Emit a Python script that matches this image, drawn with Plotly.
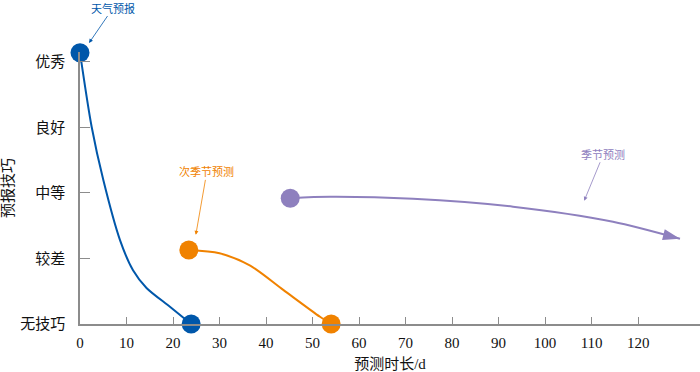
import plotly.graph_objects as go

# ---- data ----
skill_labels = ["无技巧", "较差", "中等", "良好", "优秀"]
skill_levels = [0, 1, 2, 3, 4]
x_ticks = [0, 10, 20, 30, 40, 50, 60, 70, 80, 90, 100, 110, 120]

weather_x = [0, 2.5, 5.0, 8.6, 11.4, 14.3, 19.4, 23.9]
weather_y = [4.14, 3.01, 2.2, 1.28, 0.82, 0.55, 0.26, 0.0]

subseasonal_x = [23.4, 30.0, 36.6, 43.7, 51.6, 54.0]
subseasonal_y = [1.13, 1.08, 0.89, 0.52, 0.11, 0.0]

seasonal_x = [45.2, 53.8, 71.6, 93.1, 114.6, 129.0]
seasonal_y = [1.92, 1.94, 1.91, 1.79, 1.56, 1.30]

BLUE = "#0057AA"
ORANGE = "#F08200"
PURPLE = "#8E80BE"
AXIS = "#8C8C8C"
FONT = "Liberation Serif, Noto Sans CJK SC, serif"

fig = go.Figure()

for xs, ys, col in [(weather_x, weather_y, BLUE),
                    (subseasonal_x, subseasonal_y, ORANGE),
                    (seasonal_x, seasonal_y, PURPLE)]:
    fig.add_trace(go.Scatter(
        x=xs, y=ys, mode="lines",
        line=dict(color=col, width=2, shape="spline", smoothing=0.8),
        cliponaxis=False, showlegend=False, hoverinfo="skip"))

# endpoint dots
for xs, ys, col in [(weather_x, weather_y, BLUE),
                    (subseasonal_x, subseasonal_y, ORANGE)]:
    fig.add_trace(go.Scatter(
        x=[xs[0], xs[-1]], y=[ys[0], ys[-1]], mode="markers",
        marker=dict(color=col, size=19, opacity=1, line=dict(width=0)),
        cliponaxis=False, showlegend=False, hoverinfo="skip"))

fig.add_trace(go.Scatter(
    x=[seasonal_x[0]], y=[seasonal_y[0]], mode="markers",
    marker=dict(color=PURPLE, size=19, opacity=1, line=dict(width=0)),
    cliponaxis=False, showlegend=False, hoverinfo="skip"))

# arrowhead at end of seasonal curve
fig.add_trace(go.Scatter(
    x=seasonal_x[-2:], y=seasonal_y[-2:], mode="markers",
    marker=dict(color=PURPLE, symbol=["circle", "arrow"], angleref="previous",
                size=[0, 18], opacity=1, line=dict(width=0)),
    cliponaxis=False, showlegend=False, hoverinfo="skip"))

ann_font = dict(family=FONT, size=11)
fig.add_annotation(x=1.94, y=1.033, xref="x", yref="paper", text="天气预报",
                   showarrow=True, ax=24, ay=-35, arrowhead=2, arrowsize=1,
                   arrowwidth=0.8, arrowcolor=BLUE, font=dict(ann_font, color=BLUE))
fig.add_annotation(x=24.9, y=1.36, xref="x", yref="y", text="次季节预测",
                   showarrow=True, ax=11, ay=-63, arrowhead=2, arrowsize=1,
                   arrowwidth=0.8, arrowcolor=ORANGE, font=dict(ann_font, color=ORANGE))
fig.add_annotation(x=108.4, y=1.88, xref="x", yref="y", text="季节预测",
                   showarrow=True, ax=19, ay=-46, arrowhead=2, arrowsize=1,
                   arrowwidth=0.8, arrowcolor=PURPLE, font=dict(ann_font, color=PURPLE))

fig.update_layout(
    width=700, height=372,
    margin=dict(l=80, r=0, t=52, b=48),
    paper_bgcolor="white", plot_bgcolor="white",
    font=dict(family=FONT, color="#111111"),
    xaxis=dict(range=[0, 133.3], tickvals=x_ticks, ticks="inside", ticklen=7,
               tickcolor=AXIS, tickwidth=1.2, showline=True, linecolor=AXIS,
               linewidth=1.5, showgrid=False, zeroline=False, automargin=False,
               tickfont=dict(family=FONT, size=15), ticklabelstandoff=4,
               title=dict(text="预测时长/d", font=dict(family=FONT, size=15), standoff=9)),
    yaxis=dict(range=[0, 4.15], tickvals=skill_levels, ticktext=skill_labels,
               ticks="inside", ticklen=10, tickcolor=AXIS, tickwidth=1.2,
               showline=True, linecolor=AXIS, linewidth=1.5, showgrid=False,
               zeroline=False, automargin=False, tickfont=dict(family=FONT, size=15),
               ticklabelstandoff=10,
               title=dict(text="预报技巧", font=dict(family=FONT, size=15), standoff=6)),
)

fig.write_html("out.html", config={"displayModeBar": False},
               post_script="document.body.style.margin='0';document.body.style.overflow='hidden';")
